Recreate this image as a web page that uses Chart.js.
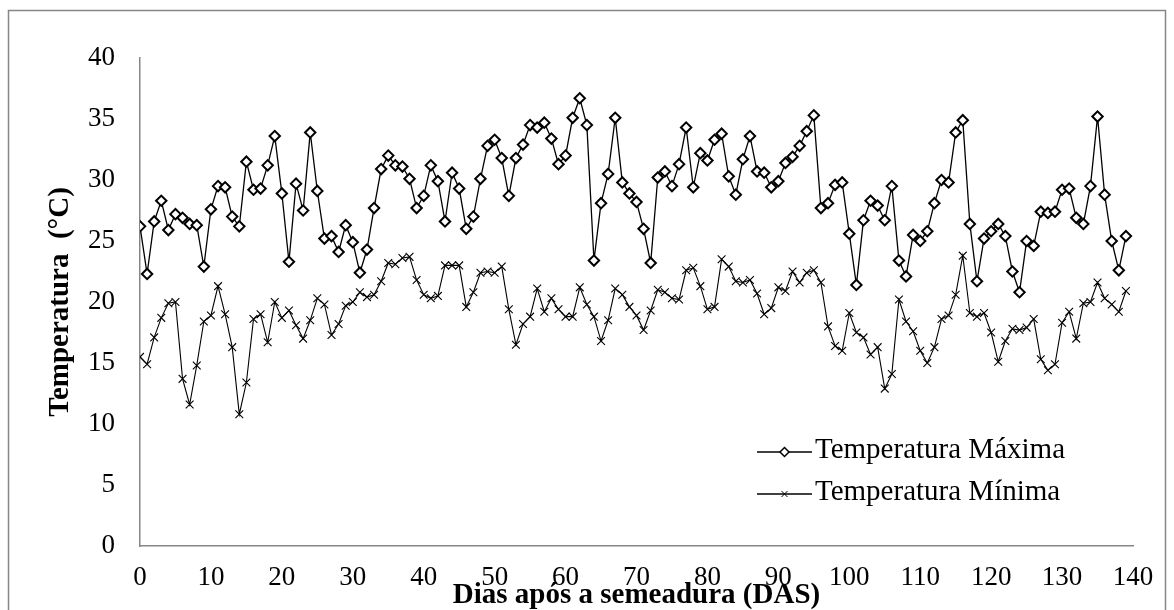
<!doctype html>
<html>
<head>
    <meta charset="utf-8">
    <title>Temperatura máxima e mínima</title>
    <script src="https://cdn.jsdelivr.net/npm/chart.js"></script>
    <style>
        body { margin: 0; background: #fff; }
        canvas { display: block; }
    </style>
</head>
<body>
<canvas id="myChart" width="1174" height="610"></canvas>

<script>
    // dias após a semeadura
    var days = [
        0, 1, 2, 3, 4, 5, 6, 7, 8, 9, 10, 11, 12, 13, 14, 15, 16, 17, 18, 19,
        20, 21, 22, 23, 24, 25, 26, 27, 28, 29, 30, 31, 32, 33, 34, 35, 36, 37, 38, 39,
        40, 41, 42, 43, 44, 45, 46, 47, 48, 49, 50, 51, 52, 53, 54, 55, 56, 57, 58, 59,
        60, 61, 62, 63, 64, 65, 66, 67, 68, 69, 70, 71, 72, 73, 74, 75, 76, 77, 78, 79,
        80, 81, 82, 83, 84, 85, 86, 87, 88, 89, 90, 91, 92, 93, 94, 95, 96, 97, 98, 99,
        100, 101, 102, 103, 104, 105, 106, 107, 108, 109, 110, 111, 112, 113, 114, 115, 116, 117, 118, 119,
        120, 121, 122, 123, 124, 125, 126, 127, 128, 129, 130, 131, 132, 133, 134, 135, 136, 137, 138, 139
    ];

    var tempMax = [
        26.2, 22.3, 26.6, 28.3, 25.9, 27.2, 26.9, 26.4, 26.3, 22.9,
        27.6, 29.5, 29.4, 27.0, 26.2, 31.5, 29.2, 29.3, 31.2, 33.6,
        28.9, 23.3, 29.7, 27.5, 33.9, 29.1, 25.2, 25.4, 24.1, 26.3,
        24.9, 22.4, 24.3, 27.7, 30.9, 32.0, 31.2, 31.1, 30.1, 27.7,
        28.7, 31.2, 29.9, 26.6, 30.6, 29.3, 26.0, 27.0, 30.1, 32.8,
        33.3, 31.8, 28.7, 31.8, 32.9, 34.5, 34.3, 34.7, 33.4, 31.3,
        32.0, 35.1, 36.7, 34.5, 23.4, 28.1, 30.5, 35.1, 29.8, 28.9,
        28.2, 26.0, 23.2, 30.2, 30.7, 29.5, 31.3, 34.3, 29.4, 32.2,
        31.6, 33.3, 33.8, 30.3, 28.8, 31.7, 33.6, 30.7, 30.6, 29.4,
        29.9, 31.4, 31.9, 32.8, 34.0, 35.3, 27.7, 28.1, 29.6, 29.8,
        25.6, 21.4, 26.7, 28.3, 27.9, 26.7, 29.5, 23.4, 22.1, 25.5,
        25.0, 25.8, 28.1, 30.0, 29.8, 33.9, 34.9, 26.4, 21.7, 25.2,
        25.8, 26.4, 25.4, 22.5, 20.8, 25.0, 24.6, 27.4, 27.3, 27.4,
        29.2, 29.3, 26.9, 26.4, 29.5, 35.2, 28.8, 25.0, 22.6, 25.4
    ];

    var tempMin = [
        15.5, 14.9, 17.1, 18.7, 19.9, 20.0, 13.7, 11.6, 14.8, 18.4,
        18.9, 21.3, 19.0, 16.3, 10.8, 13.4, 18.6, 19.0, 16.7, 20.0,
        18.7, 19.3, 18.1, 17.0, 18.5, 20.3, 19.8, 17.3, 18.2, 19.7,
        20.0, 20.8, 20.4, 20.6, 21.7, 23.2, 23.1, 23.6, 23.7, 21.8,
        20.6, 20.3, 20.5, 23.0, 23.0, 23.0, 19.6, 20.8, 22.4, 22.5,
        22.4, 22.9, 19.4, 16.5, 18.2, 18.8, 21.1, 19.2, 20.3, 19.4,
        18.8, 18.8, 21.2, 19.8, 18.8, 16.8, 18.5, 21.1, 20.6, 19.6,
        18.9, 17.7, 19.3, 21.0, 20.8, 20.3, 20.2, 22.6, 22.8, 21.3,
        19.4, 19.6, 23.5, 22.9, 21.7, 21.6, 21.8, 20.7, 19.0, 19.5,
        21.2, 20.9, 22.5, 21.6, 22.4, 22.6, 21.6, 18.0, 16.4, 16.0,
        19.1, 17.5, 17.1, 15.7, 16.3, 12.9, 14.1, 20.2, 18.4, 17.6,
        16.0, 15.0, 16.3, 18.6, 18.9, 20.6, 23.8, 19.1, 18.8, 19.1,
        17.5, 15.1, 16.8, 17.8, 17.7, 17.9, 18.6, 15.3, 14.4, 14.9,
        18.3, 19.2, 17.0, 19.9, 20.0, 21.6, 20.3, 19.8, 19.2, 20.9
    ];

    var xTicks = [0, 10, 20, 30, 40, 50, 60, 70, 80, 90, 100, 110, 120, 130, 140];
    var yTicks = [0, 5, 10, 15, 20, 25, 30, 35, 40];

    var serif = '"Liberation Serif", "Times New Roman", serif';
    var axisGray = '#868686';

    function toPoints(values) {
        return days.map(function (d, i) {
            return {x: d, y: values[i]};
        });
    }

    // moldura cinza e fundo branco
    var framePlugin = {
        id: 'frame',
        beforeDraw: function (chart) {
            var ctx = chart.ctx;
            ctx.save();
            ctx.fillStyle = '#fff';
            ctx.fillRect(0, 0, chart.width, chart.height);
            ctx.strokeStyle = axisGray;
            ctx.lineWidth = 1.5;
            ctx.strokeRect(8.5, 10.5, chart.width - 17, chart.height + 20);
            ctx.restore();
        }
    };

    // legenda dentro da área do gráfico, como no Excel
    var legendPlugin = {
        id: 'insideLegend',
        afterDraw: function (chart) {
            var ctx = chart.ctx;
            var x0 = 757, x1 = 812, tx = 815;
            var rows = [452, 494];
            ctx.save();
            chart.data.datasets.forEach(function (ds, i) {
                var y = rows[i];
                var cx = (x0 + x1) / 2;
                ctx.strokeStyle = '#000';
                ctx.lineWidth = 1.3;
                ctx.beginPath();
                ctx.moveTo(x0, y);
                ctx.lineTo(x1, y);
                ctx.stroke();
                if (ds.pointStyle === 'rectRot') {
                    ctx.fillStyle = '#fff';
                    ctx.lineWidth = 1.5;
                    ctx.beginPath();
                    ctx.moveTo(cx, y - 4.5);
                    ctx.lineTo(cx + 4.5, y);
                    ctx.lineTo(cx, y + 4.5);
                    ctx.lineTo(cx - 4.5, y);
                    ctx.closePath();
                    ctx.fill();
                    ctx.stroke();
                } else {
                    ctx.lineWidth = 1;
                    ctx.beginPath();
                    ctx.moveTo(cx - 3, y - 3);
                    ctx.lineTo(cx + 3, y + 3);
                    ctx.moveTo(cx + 3, y - 3);
                    ctx.lineTo(cx - 3, y + 3);
                    ctx.stroke();
                }
                ctx.fillStyle = '#000';
                ctx.font = '29px ' + serif;
                ctx.textBaseline = 'middle';
                ctx.textAlign = 'left';
                ctx.fillText(ds.label, tx, y - 2);
            });
            ctx.restore();
        }
    };

    var myChart = new Chart(document.getElementById('myChart'), {
        type: 'line',
        data: {
            datasets: [{
                label: 'Temperatura Máxima',
                data: toPoints(tempMax),
                borderColor: '#000',
                borderWidth: 1.3,
                pointStyle: 'rectRot',
                pointRadius: 5.2,
                pointBorderWidth: 2,
                pointBackgroundColor: '#fff',
                pointBorderColor: '#000',
                tension: 0
            }, {
                label: 'Temperatura Mínima',
                data: toPoints(tempMin),
                borderColor: '#000',
                borderWidth: 1.1,
                pointStyle: 'crossRot',
                pointRadius: 5.5,
                pointBorderWidth: 1.1,
                pointBorderColor: '#000',
                tension: 0
            }]
        },
        options: {
            responsive: false,
            animation: false,
            devicePixelRatio: 1,
            layout: {
                padding: {left: 0, right: 41, top: 58, bottom: 0}
            },
            plugins: {
                legend: {display: false},
                tooltip: {enabled: false}
            },
            scales: {
                x: {
                    type: 'linear',
                    min: 0,
                    max: 140,
                    afterBuildTicks: function (scale) {
                        scale.ticks = xTicks.map(function (v) { return {value: v}; });
                    },
                    afterFit: function (scale) {
                        scale.height = 64;
                    },
                    grid: {display: false, drawTicks: false},
                    border: {display: true, color: axisGray, width: 1.5},
                    ticks: {
                        color: '#000',
                        font: {family: serif, size: 27},
                        padding: 16,
                        maxRotation: 0,
                        autoSkip: false
                    },
                    title: {
                        display: true,
                        text: 'Dias após a semeadura (DAS)',
                        color: '#000',
                        font: {family: serif, size: 29, weight: 'bold', lineHeight: 1},
                        padding: {top: 0, bottom: 0}
                    }
                },
                y: {
                    min: 0,
                    max: 40,
                    afterBuildTicks: function (scale) {
                        scale.ticks = yTicks.map(function (v) { return {value: v}; });
                    },
                    afterFit: function (scale) {
                        scale.width = 140;
                    },
                    grid: {display: false, drawTicks: false},
                    border: {display: true, color: axisGray, width: 1.5},
                    ticks: {
                        color: '#000',
                        font: {family: serif, size: 27},
                        padding: 25
                    },
                    title: {
                        display: true,
                        text: 'Temperatura  (°C)',
                        color: '#000',
                        font: {family: serif, size: 29, weight: 'bold', lineHeight: 1.2},
                        padding: {top: 43, bottom: 0}
                    }
                }
            }
        },
        plugins: [framePlugin, legendPlugin]
    });
</script>
</body>
</html>
